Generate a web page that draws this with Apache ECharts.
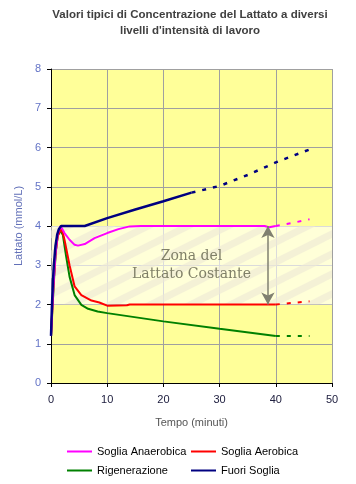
<!DOCTYPE html>
<html><head><meta charset="utf-8">
<script src="https://cdn.jsdelivr.net/npm/echarts/dist/echarts.min.js"></script>
<style>html,body{margin:0;padding:0;background:#fff}#c{width:356px;height:484px}</style>
</head><body><div id="c"></div>
<script>
// ---- data ----
const titleText = 'Valori tipici di Concentrazione del Lattato a diversi\nlivelli d\'intensità di lavoro';
const xName = 'Tempo (minuti)';
const yName = 'Lattato (mmol/L)';
const seriesNames = ['Soglia Anaerobica', 'Soglia Aerobica', 'Rigenerazione', 'Fuori Soglia'];

const anaerobicaT = [0, 0.4, 0.8, 1.2, 1.7, 2.4, 3.3, 4.2, 4.8, 6, 7.75, 10, 12, 14, 16, 38, 38.8, 40];
const anaerobicaY = [1.2, 2.4, 3.3, 3.8, 4.0, 3.82, 3.65, 3.52, 3.5, 3.54, 3.69, 3.82, 3.92, 3.99, 4.0, 4.0, 3.97, 4.0];
const anaerobicaDotT = [40, 43, 46];
const anaerobicaDotY = [4.0, 4.08, 4.17];

const aerobicaT = [0, 0.4, 0.8, 1.2, 1.8, 2.1, 2.4, 3.3, 4.2, 5.4, 7.2, 8.6, 10, 13.5, 14, 40];
const aerobicaY = [1.2, 2.4, 3.3, 3.75, 3.92, 3.82, 3.65, 3.0, 2.46, 2.24, 2.1, 2.05, 1.97, 1.98, 2.0, 2.0];
const aerobicaDotT = [40, 43, 46];
const aerobicaDotY = [2.0, 2.04, 2.08];

const rigenT = [0, 0.3, 0.6, 0.9, 1.2, 1.6, 2.1, 2.7, 3.3, 4.2, 5.4, 6.6, 8.3, 10, 20, 30, 40];
const rigenY = [1.2, 2.0, 2.8, 3.4, 3.75, 3.88, 3.78, 3.22, 2.71, 2.24, 1.99, 1.89, 1.82, 1.78, 1.57, 1.38, 1.2];
const rigenDotT = [40, 46];
const rigenDotY = [1.2, 1.2];

const fuoriT = [0, 0.15, 0.35, 0.5, 0.8, 1.1, 1.4, 1.8, 6, 10, 15, 20, 25];
const fuoriY = [1.2, 1.9, 2.6, 3.0, 3.5, 3.78, 3.92, 4.0, 4.0, 4.2, 4.42, 4.63, 4.85];
const fuoriDotT = [25, 30, 35, 40, 46];
const fuoriDotY = [4.85, 5.02, 5.3, 5.62, 5.95];

const zoneLow = 2, zoneHigh = 4, zoneStart = 0, zoneEnd = 50;
const zoneLabel = 'Zona del\nLattato Costante';
const arrowTime = 38.6;

// ---- helpers ----
const zip = (t, y) => t.map((v, i) => [v, y[i]]);

// striped pattern for the zone band
const pat = document.createElement('canvas');
pat.width = 40; pat.height = 20;
const g = pat.getContext('2d');
g.fillStyle = 'rgba(255,255,255,0.62)';
g.fillRect(0, 0, 40, 20);
g.strokeStyle = 'rgba(236,232,214,0.6)';
g.lineWidth = 7;
for (let c = -20; c <= 60; c += 20) {
  g.beginPath(); g.moveTo(-40, c + 20); g.lineTo(80, c - 40); g.stroke();
}

const colors = ['#ff00ff', '#ff0000', '#008000', '#000080'];
const widths = [2, 2, 2, 2.5];
const solid = [zip(anaerobicaT, anaerobicaY), zip(aerobicaT, aerobicaY), zip(rigenT, rigenY), zip(fuoriT, fuoriY)];
const dotted = [zip(anaerobicaDotT, anaerobicaDotY), zip(aerobicaDotT, aerobicaDotY), zip(rigenDotT, rigenDotY), zip(fuoriDotT, fuoriDotY)];

const series = [{
  type: 'line', name: 'zona', data: [], z: 1, silent: true,
  markArea: {
    silent: true,
    itemStyle: { color: { image: pat, repeat: 'repeat' } },
    label: { show: true, position: 'inside', formatter: zoneLabel, fontFamily: 'DejaVu Serif', fontSize: 14, lineHeight: 18, color: '#808068' },
    data: [[{ xAxis: zoneStart, yAxis: zoneLow }, { xAxis: zoneEnd, yAxis: zoneHigh }]]
  },
  markLine: {
    silent: true, symbol: ['arrow', 'arrow'], symbolSize: [10, 12],
    label: { show: false },
    lineStyle: { color: '#808070', width: 1.5, type: 'solid' },
    data: [[{ coord: [arrowTime, zoneHigh] }, { coord: [arrowTime, zoneLow] }]]
  }
}];
const order = [2, 1, 0, 3];
order.forEach(i => {
  series.push({
    type: 'line', name: seriesNames[i] + ' proiezione', data: dotted[i], symbol: 'none', z: 3,
    lineStyle: { color: colors[i], width: widths[i], type: [4, 7] }, silent: true
  });
});
order.forEach(i => {
  series.push({
    type: 'line', name: seriesNames[i], data: solid[i], symbol: 'none', z: 4,
    itemStyle: { color: colors[i] },
    lineStyle: { color: colors[i], width: widths[i] }, silent: true
  });
});

const legendCommon = {
  orient: 'vertical', itemWidth: 25, itemHeight: 11, itemGap: 8, top: 446,
  textStyle: { fontFamily: 'Liberation Sans', fontSize: 11, color: '#000' },
  lineStyle: { width: 2 }, itemStyle: { opacity: 0 }, selectedMode: false, padding: 0
};

const chart = echarts.init(document.getElementById('c'), null, { renderer: 'canvas' });
chart.setOption({
  animation: false,
  backgroundColor: '#fff',
  graphic: [{
    type: 'text', x: 190, y: 7, silent: true,
    style: { text: titleText, align: 'center', verticalAlign: 'top', fontFamily: 'Liberation Sans', fontSize: 11.5, fontWeight: 'bold', fill: '#404040', lineHeight: 16 }
  }],
  legend: [
    Object.assign({ left: 66, data: [seriesNames[0], seriesNames[2]] }, legendCommon),
    Object.assign({ left: 190, data: [seriesNames[1], seriesNames[3]] }, legendCommon)
  ],
  grid: { left: 51, right: 24, top: 69, bottom: 101, show: true, backgroundColor: '#ffff99', borderWidth: 0 },
  xAxis: {
    type: 'value', min: 0, max: 50, interval: 10,
    name: xName, nameLocation: 'middle', nameGap: 34,
    nameTextStyle: { fontFamily: 'Liberation Sans', fontSize: 11, color: '#555' },
    axisLine: { show: true, onZero: false, lineStyle: { color: '#000', width: 1 } },
    axisTick: { show: true, length: 4, lineStyle: { color: '#000' } },
    axisLabel: { margin: 11, fontFamily: 'Liberation Sans', fontSize: 11, color: '#202040' },
    splitLine: { show: true, lineStyle: { color: '#a0a0a0', width: 1 } }
  },
  yAxis: {
    type: 'value', min: 0, max: 8, interval: 1,
    name: yName, nameLocation: 'middle', nameGap: 24,
    nameTextStyle: { fontFamily: 'Liberation Sans', fontSize: 11, color: '#6270b8' },
    axisLine: { show: true, lineStyle: { color: '#000', width: 1 } },
    axisTick: { show: true, length: 4, lineStyle: { color: '#000' } },
    axisLabel: { margin: 10, fontFamily: 'Liberation Sans', fontSize: 11, color: '#6373c6' },
    splitLine: { show: true, lineStyle: { color: '#a0a0a0', width: 1 } }
  },
  series: series
});
</script>
</body></html>
